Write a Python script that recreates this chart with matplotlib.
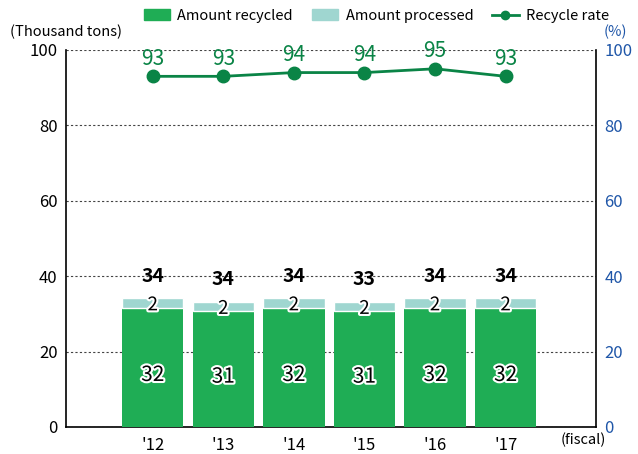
import matplotlib
matplotlib.use('Agg')
import matplotlib.pyplot as plt
import matplotlib.patheffects as pe
from matplotlib.patches import Patch
from matplotlib.lines import Line2D
import numpy as np

plt.rcParams['font.family'] = ['Noto Sans CJK JP', 'DejaVu Sans']

# Data
years = ["'12", "'13", "'14", "'15", "'16", "'17"]
recycled = [31.6, 30.7, 31.6, 30.7, 31.6, 31.6]
processed = [2.6, 2.5, 2.6, 2.5, 2.6, 2.6]
recycled_labels = [32, 31, 32, 31, 32, 32]
processed_labels = [2, 2, 2, 2, 2, 2]
total_labels = [34, 34, 34, 33, 34, 34]
rate = [93, 93, 94, 94, 95, 93]

GREEN = '#1fad55'
TEAL = '#9fd6d0'
LINE = '#0a8446'
BLUE = '#1f56a8'

fig = plt.figure(figsize=(6.38, 4.54), dpi=100)
ax = fig.add_axes([0.1034, 0.0595, 0.8307, 0.8305])
x = np.arange(len(years))

ax.bar(x, recycled, width=0.87, color=GREEN, zorder=3)
ax.bar(x, processed, width=0.87, bottom=recycled, color=TEAL,
       edgecolor='white', linewidth=1.0, zorder=3)

# value labels: black text with a white outline inside the bars
outline = [pe.withStroke(linewidth=3, foreground='white')]
for i in range(len(years)):
    ax.text(x[i], recycled[i] / 2 - 2.0, str(recycled_labels[i]), ha='center', va='center',
            fontsize=15, color='black', path_effects=outline, zorder=5)
    ax.text(x[i], recycled[i] + processed[i] / 2 - 0.5, str(processed_labels[i]), ha='center',
            va='center', fontsize=13.5, color='black', path_effects=outline, zorder=5)
    ax.text(x[i], recycled[i] + processed[i] + 3.3, str(total_labels[i]), ha='center',
            va='bottom', fontsize=14, fontweight='bold', color='black', zorder=5)

ax.set_xlim(-1.23, 6.28)
ax.set_ylim(0, 100)
ax.set_yticks(range(0, 101, 20))
ax.set_xticks(x)
ax.set_xticklabels(years)
ax.tick_params(axis='both', length=0, labelsize=12, pad=6)
ax.tick_params(axis='x', pad=7)
ax.grid(axis='y', linestyle=(0, (2, 2)), color='#444444', linewidth=0.8, zorder=1)
ax.spines['top'].set_visible(False)
for s in ['left', 'bottom', 'right']:
    ax.spines[s].set_linewidth(1.2)

ax2 = ax.twinx()
ax2.set_ylim(0, 100)
ax2.set_yticks(range(0, 101, 20))
ax2.tick_params(axis='y', length=0, labelsize=12, labelcolor=BLUE, pad=6)
for s in ax2.spines.values():
    s.set_visible(False)
ax2.plot(x, rate, color=LINE, marker='o', markersize=9, linewidth=2, zorder=6)
for i in range(len(years)):
    ax2.text(x[i], rate[i] + 1.8, str(rate[i]), ha='center', va='bottom',
             fontsize=15, color=LINE)

fig.text(0.016, 0.93, '(Thousand tons)', fontsize=10.5, va='center')
fig.text(0.965, 0.93, '(%)', fontsize=10.5, va='center', ha='center', color=BLUE)
fig.text(0.914, 0.015, '(fiscal)', fontsize=10.5, va='bottom', ha='center')

handles = [Patch(color=GREEN), Patch(color=TEAL),
           Line2D([], [], color=LINE, marker='o', markersize=6, linewidth=2)]
fig.legend(handles, ['Amount recycled', 'Amount processed', 'Recycle rate'],
           loc='center', bbox_to_anchor=(0.59, 0.965), ncol=3, frameon=False,
           fontsize=10.5, handlelength=1.8, handleheight=0.8, columnspacing=1.3,
           handletextpad=0.5)

fig.savefig('out.png', dpi=100)
